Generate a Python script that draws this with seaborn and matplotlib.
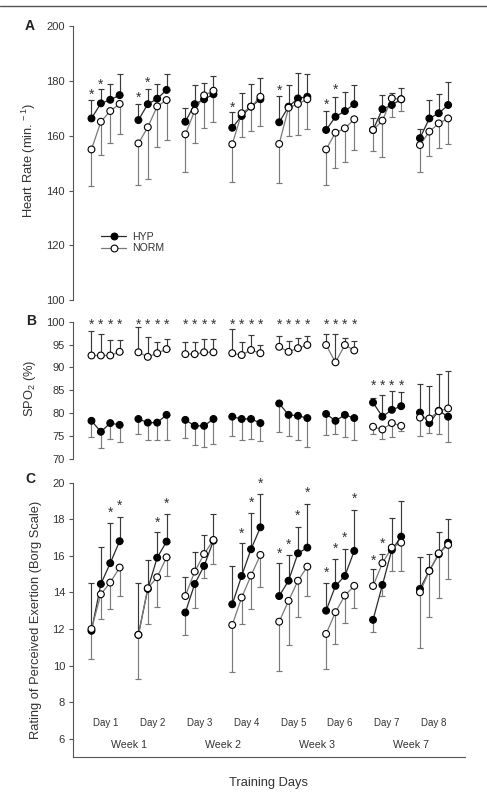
import numpy as np
import pandas as pd
import matplotlib
matplotlib.use("Agg")
import matplotlib.pyplot as plt
import matplotlib.transforms as mtransforms
from matplotlib.lines import Line2D
import seaborn as sns

# ---------------- data ----------------
days = ["Day 1", "Day 2", "Day 3", "Day 4", "Day 5", "Day 6", "Day 7", "Day 8"]
weeks = ["Week 1", "Week 2", "Week 3", "Week 7"]
n_sessions = 4
groups = ["HYP", "NORM"]

# Panel A: heart rate (mean, and value at the end of the error bar)
hr_hyp = [166.3, 171.8, 173.1, 174.8, 165.7, 171.5, 173.5, 176.7,
          165.1, 171.5, 173.3, 175.1, 162.9, 167.2, 170.6, 173.3,
          164.9, 170.6, 173.6, 174.2, 162.1, 166.9, 169.0, 171.5,
          162.1, 169.7, 171.2, 173.3, 159.1, 166.3, 168.2, 171.2]
hr_hyp_bar = [173.0, 176.9, 178.7, 182.5, 171.5, 176.9, 178.7, 182.5,
              170.2, 178.5, 179.3, 181.8, 168.5, 175.5, 178.9, 180.9,
              174.5, 178.5, 182.7, 182.4, 169.0, 174.0, 175.8, 178.5,
              166.3, 174.8, 175.5, 177.5, 162.3, 173.0, 175.1, 179.7]
hr_norm = [155.0, 165.1, 169.0, 171.6, 157.2, 163.1, 170.7, 173.0,
           160.5, 169.1, 174.7, 176.4, 156.9, 168.2, 170.6, 174.2,
           157.0, 170.2, 171.6, 173.3, 155.0, 161.1, 162.7, 166.0,
           162.1, 165.5, 173.6, 173.3, 156.6, 161.5, 164.5, 166.3]
hr_norm_bar = [141.7, 153.0, 157.2, 160.6, 142.0, 144.2, 155.8, 158.4,
               146.9, 157.2, 162.7, 165.1, 143.0, 159.6, 161.8, 163.7,
               142.6, 159.9, 160.3, 162.3, 142.0, 148.3, 150.5, 154.8,
               154.5, 152.1, 166.9, 169.0, 146.9, 152.7, 155.4, 156.9]
hr_star_idx = [0, 1, 4, 5, 12, 16, 20, 21]
hr_star_y = [176.2, 180.1, 175.1, 180.6, 171.5, 177.7, 172.7, 178.0]

# Panel B: SPO2
spo2_hyp = [78.3, 75.9, 77.8, 77.4, 78.7, 77.9, 77.9, 79.6,
            78.5, 77.2, 77.2, 78.7, 79.2, 78.7, 78.7, 77.8,
            82.1, 79.6, 79.4, 78.9, 79.8, 78.3, 79.6, 78.9,
            82.3, 79.2, 80.7, 81.5, 80.1, 77.8, 80.5, 79.2]
spo2_hyp_bar = [74.7, 72.3, 74.3, 73.7, 75.4, 74.1, 74.2, 74.2,
                74.6, 73.0, 72.5, 73.2, 75.0, 74.2, 74.3, 73.9,
                75.9, 75.0, 74.1, 72.5, 75.2, 75.3, 74.7, 74.1,
                83.4, 83.9, 84.9, 84.7, 86.4, 75.7, 75.4, 73.7]
spo2_norm = [92.6, 92.6, 92.6, 93.4, 93.3, 92.3, 93.1, 94.0,
             92.9, 92.9, 93.3, 93.3, 93.1, 92.7, 93.8, 93.1,
             94.5, 93.4, 94.2, 94.9, 94.9, 91.1, 94.9, 93.7,
             77.0, 76.4, 77.8, 77.2, 79.0, 78.8, 80.4, 81.0]
spo2_norm_bar = [98.0, 97.2, 96.0, 96.1, 98.8, 96.6, 95.5, 96.2,
                 95.5, 95.6, 96.2, 96.2, 98.4, 95.5, 97.1, 95.0,
                 96.9, 95.8, 96.4, 96.9, 97.3, 97.3, 96.4, 95.8,
                 75.4, 74.3, 74.8, 76.0, 75.0, 86.0, 88.5, 89.2]
spo2_star_idx = [0, 1, 2, 3, 4, 5, 6, 7, 8, 9, 10, 11, 12, 13,
                 14, 15, 16, 17, 18, 19, 20, 21, 22, 23, 24, 25, 26, 27]
spo2_star_y = [100.2, 100.2, 100.2, 100.2, 100.2, 100.2, 100.2, 100.2,
               100.2, 100.2, 100.2, 100.2, 100.2, 100.2, 100.2, 100.2,
               100.2, 100.2, 100.2, 100.2, 100.2, 100.2, 100.2, 100.2,
               86.9, 86.9, 86.9, 86.9]

# Panel C: RPE
rpe_hyp = [11.9, 14.46, 15.6, 16.8, 11.68, 14.19, 15.9, 16.78,
           12.9, 14.46, 15.45, 16.83, 13.35, 14.9, 16.36, 17.56,
           13.8, 14.64, 16.14, 16.45, 13.0, 14.36, 14.9, 16.27,
           12.5, 14.41, 16.32, 17.05, 14.19, 15.19, 16.09, 16.72]
rpe_hyp_bar = [14.54, 16.5, 17.8, 18.1, 14.5, 15.8, 17.29, 18.27,
               11.68, 13.14, 14.81, 18.29, 15.46, 16.69, 18.36, 19.38,
               15.6, 16.05, 17.56, 18.84, 14.5, 15.83, 16.38, 18.51,
               11.82, 13.8, 15.19, 19.02, 15.92, 16.09, 17.29, 18.0]
rpe_norm = [12.0, 13.9, 14.54, 15.36, 11.68, 14.23, 14.83, 15.92,
            13.8, 15.14, 16.1, 16.87, 12.22, 13.72, 14.92, 16.05,
            12.4, 13.54, 14.64, 15.41, 11.73, 12.92, 13.83, 14.36,
            14.35, 15.6, 16.45, 16.72, 14.01, 15.17, 16.14, 16.6]
rpe_norm_bar = [10.37, 12.55, 13.08, 13.8, 9.26, 12.28, 13.22, 14.9,
                14.86, 16.23, 17.14, 15.56, 9.64, 12.28, 13.08, 14.32,
                9.73, 11.13, 12.64, 13.8, 9.8, 11.19, 12.32, 13.17,
                15.27, 16.1, 18.09, 15.19, 10.95, 12.68, 13.68, 14.72]
rpe_star_idx = [2, 3, 6, 7, 13, 14, 15, 16, 17, 18, 19, 20, 21, 22, 23, 24, 25]
rpe_star_y = [18.55, 18.93, 18.0, 19.05, 17.42, 19.11, 20.15, 16.32, 16.81,
              18.38, 19.64, 15.28, 16.6, 17.18, 19.33, 15.92, 16.87]

# ---------------- style ----------------
sns.set_style("white")
plt.rcParams["font.family"] = ["Liberation Sans", "DejaVu Sans"]
plt.rcParams["mathtext.fontset"] = "custom"
plt.rcParams["mathtext.rm"] = "Liberation Sans"
plt.rcParams["mathtext.it"] = "Liberation Sans:italic"

SPINE = "#555555"
TXT = "#333333"
UPC = "#3a3a3a"
DNC = "#7a7a7a"

day_idx = np.repeat(np.arange(len(days)), n_sessions)
ses_idx = np.tile(np.arange(n_sessions), len(days))
xpos = day_idx * (n_sessions + 1) + ses_idx


def make_df(hyp, norm):
    return pd.DataFrame({
        "x": np.concatenate([xpos, xpos]),
        "v": np.concatenate([hyp, norm]),
        "day": np.concatenate([day_idx, day_idx]),
        "group": ["HYP"] * len(hyp) + ["NORM"] * len(norm),
    })


def draw_bars(ax, mean, end):
    mean = np.asarray(mean, float)
    end = np.asarray(end, float)
    up = np.clip(end - mean, 0, None)
    dn = np.clip(mean - end, 0, None)
    m = up > 0
    ax.errorbar(xpos[m], mean[m], yerr=[np.zeros(m.sum()), up[m]], fmt="none",
                ecolor=UPC, elinewidth=0.85, capsize=2.0, capthick=0.85, zorder=1.5)
    m = dn > 0
    ax.errorbar(xpos[m], mean[m], yerr=[dn[m], np.zeros(m.sum())], fmt="none",
                ecolor=DNC, elinewidth=0.85, capsize=2.0, capthick=0.85, zorder=1.5)


def draw_panel(ax, hyp, hyp_bar, norm, norm_bar, star_idx, star_y):
    df = make_df(hyp, norm)
    draw_bars(ax, hyp, hyp_bar)
    draw_bars(ax, norm, norm_bar)
    sns.lineplot(data=df, x="x", y="v", hue="group", units="day", estimator=None,
                 palette={"HYP": "#2a2a2a", "NORM": "#7a7a7a"}, lw=0.9,
                 legend=False, ax=ax, zorder=2)
    sns.scatterplot(data=df, x="x", y="v", hue="group",
                    palette={"HYP": "black", "NORM": "white"}, edgecolor="black",
                    linewidth=0.8, s=24, legend=False, ax=ax, zorder=3)
    for i, y in zip(star_idx, star_y):
        ax.annotate("*", xy=(xpos[i], y), xytext=(0, -5.6), textcoords="offset points",
                    ha="center", va="baseline", fontsize=10, color=TXT,
                    annotation_clip=False)
    ax.set_xlim(-2, 39.8)
    ax.set_xlabel("")
    ax.set_ylabel("")
    ax.set_xticks([])
    for s in ["top", "right", "bottom"]:
        ax.spines[s].set_visible(False)
    ax.spines["left"].set_color(SPINE)
    ax.spines["left"].set_linewidth(0.8)
    ax.tick_params(axis="y", direction="out", length=3.2, width=0.8, color=SPINE,
                   labelsize=8, labelcolor=TXT, pad=2.3, left=True)
    ax.patch.set_alpha(0)


fig = plt.figure(figsize=(4.87, 7.95), dpi=100)
L, W = 72.7 / 487, 392.3 / 487
axA = fig.add_axes([L, 1 - 300.3 / 795, W, 274.3 / 795])
axB = fig.add_axes([L, 1 - 458.7 / 795, W, 137.0 / 795])
axC = fig.add_axes([L, 1 - 757.0 / 795, W, 274.3 / 795])

draw_panel(axA, hr_hyp, hr_hyp_bar, hr_norm, hr_norm_bar, hr_star_idx, hr_star_y)
draw_panel(axB, spo2_hyp, spo2_hyp_bar, spo2_norm, spo2_norm_bar, spo2_star_idx, spo2_star_y)
draw_panel(axC, rpe_hyp, rpe_hyp_bar, rpe_norm, rpe_norm_bar, rpe_star_idx, rpe_star_y)

axA.set_ylim(100, 200)
axA.set_yticks(np.arange(100, 201, 20))
axB.set_ylim(70, 100)
axB.set_yticks(np.arange(70, 101, 5))
axC.set_ylim(5, 20)
axC.set_yticks(np.arange(6, 21, 2))
axC.spines["bottom"].set_visible(True)
axC.spines["bottom"].set_color(SPINE)
axC.spines["bottom"].set_linewidth(0.8)

# y labels
for ax, lab, cx, cy in [(axA, "Heart Rate (min.$^{\\,-1}$)", -0.111, 0.511),
                        (axB, "SPO$_2$ (%)", -0.109, 0.516),
                        (axC, "Rating of Perceived Exertion (Borg Scale)", -0.093, 0.5)]:
    ax.set_ylabel(lab, fontsize=9.3, color=TXT)
    ax.yaxis.label.set_verticalalignment("center")
    ax.yaxis.set_label_coords(cx, cy)

axC.set_xlabel("Training Days", fontsize=9.3, color=TXT)
axC.xaxis.set_label_coords(0.5, -0.072)

# day / week labels
blend = mtransforms.blended_transform_factory(axC.transData, axC.transAxes)
for d, lab in enumerate(days):
    axC.text(d * (n_sessions + 1) + (n_sessions - 1) / 2, 0.123, lab, transform=blend,
             ha="center", va="center", fontsize=7, color=TXT)
for w, lab in enumerate(weeks):
    axC.text(w * 2 * (n_sessions + 1) + (n_sessions + 1) - 1, 0.044, lab, transform=blend,
             ha="center", va="center", fontsize=7.7, color=TXT)

# legend
handles = [Line2D([], [], color="#2a2a2a", lw=0.9, marker="o", ms=4.9,
                  mfc="black", mec="black", mew=0.8),
           Line2D([], [], color="#7a7a7a", lw=0.9, marker="o", ms=4.9,
                  mfc="white", mec="black", mew=0.8)]
axA.legend(handles, groups, loc="upper left", bbox_to_anchor=(0.072, 0.25),
           frameon=False, fontsize=7.6, handlelength=2.4, handletextpad=0.6,
           labelspacing=0.15, borderpad=0, borderaxespad=0, labelcolor=TXT)

# panel letters
for lab, px, py in [("A", 30, 26), ("B", 31, 320.7), ("C", 30, 479.3)]:
    fig.text(px / 487, 1 - py / 795, lab, ha="center", va="center",
             fontsize=10, fontweight="bold", color="#222222")

# top rule
fig.add_artist(Line2D([0, 1], [1 - 6 / 795, 1 - 6 / 795], color="#555555", lw=1.0))

fig.savefig("out.png", dpi=100)
